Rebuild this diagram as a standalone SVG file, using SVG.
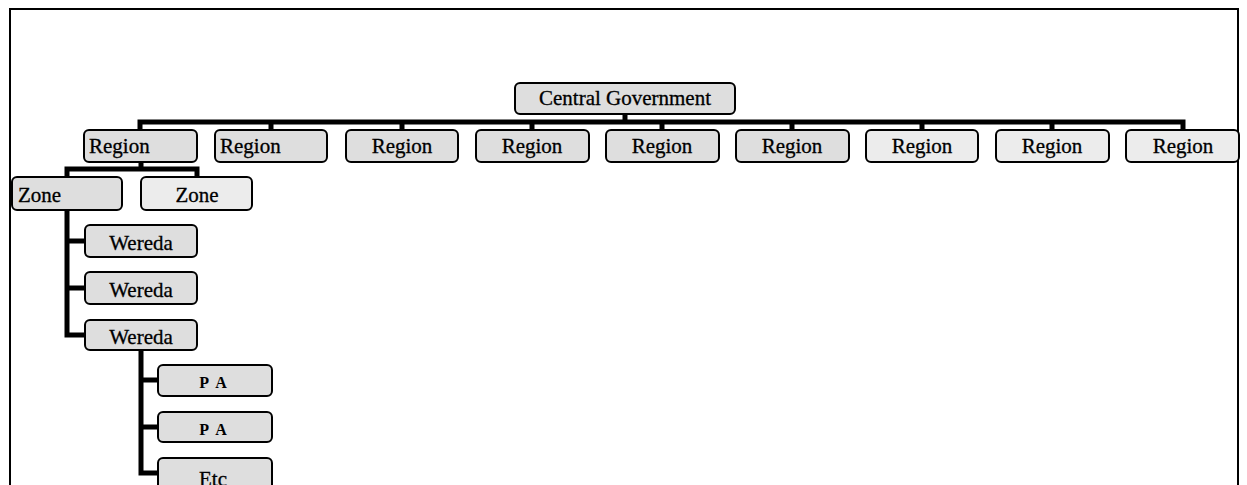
<svg xmlns="http://www.w3.org/2000/svg" width="1247" height="485" viewBox="0 0 1247 485">
<style>
.bx{stroke:#000;stroke-width:2;fill:#dedede}
.lt{fill:#ececec}
.t{font-family:"Liberation Serif","Times New Roman",serif;font-size:21px;fill:#000;stroke:#000;stroke-width:0.3}
.s{font-family:"Liberation Serif","Times New Roman",serif;font-size:16px;fill:#000;font-weight:bold;letter-spacing:2px}
.c{fill:none;stroke:#000;stroke-width:5}
.m{text-anchor:middle}
</style>
<rect width="1247" height="485" fill="#fff"/>
<path d="M10,485 V9 H1238 V485" fill="none" stroke="#000" stroke-width="2"/>
<g id="connectors">
<path class="c" d="M140,130 V122 H1183 V130"/>
<path class="c" d="M625,114 V122"/>
<path class="c" d="M271,122 V130 M402,122 V130 M532,122 V130 M662,122 V130 M792,122 V130 M922,122 V130 M1052,122 V130"/>
<path class="c" d="M141,162 V169 M67,177 V169 H197 V177"/>
<path class="c" d="M67,210 V335 H85 M67,241 H85 M67,288 H85"/>
<path class="c" d="M141,350 V473 H158 M141,380 H158 M141,427 H158"/>
</g>
<g id="central"><rect class="bx" x="515" y="83" width="220" height="31" rx="5"/><text class="t m" x="625" y="105">Central Government</text></g>
<g id="region1"><rect class="bx" x="84" y="130" width="113" height="32" rx="5"/><text class="t" x="89" y="153">Region</text></g>
<g id="region2"><rect class="bx" x="215" y="130" width="112" height="32" rx="5"/><text class="t" x="220" y="153">Region</text></g>
<g id="region3"><rect class="bx" x="346" y="130" width="112" height="32" rx="5"/><text class="t m" x="402" y="153">Region</text></g>
<g id="region4"><rect class="bx" x="476" y="130" width="113" height="32" rx="5"/><text class="t m" x="532" y="153">Region</text></g>
<g id="region5"><rect class="bx" x="606" y="130" width="113" height="32" rx="5"/><text class="t m" x="662" y="153">Region</text></g>
<g id="region6"><rect class="bx" x="736" y="130" width="113" height="32" rx="5"/><text class="t m" x="792" y="153">Region</text></g>
<g id="region7"><rect class="bx lt" x="866" y="130" width="112" height="32" rx="5"/><text class="t m" x="922" y="153">Region</text></g>
<g id="region8"><rect class="bx lt" x="996" y="130" width="113" height="32" rx="5"/><text class="t m" x="1052" y="153">Region</text></g>
<g id="region9"><rect class="bx lt" x="1126" y="130" width="113" height="32" rx="5"/><text class="t m" x="1183" y="153">Region</text></g>
<g id="zone1"><rect class="bx" x="12" y="177" width="110" height="33" rx="5"/><text class="t" x="18" y="202">Zone</text></g>
<g id="zone2"><rect class="bx lt" x="141" y="177" width="111" height="33" rx="5"/><text class="t m" x="197" y="202">Zone</text></g>
<g id="wereda1"><rect class="bx" x="85" y="225" width="112" height="32" rx="5"/><text class="t m" x="141" y="250">Wereda</text></g>
<g id="wereda2"><rect class="bx" x="85" y="272" width="112" height="32" rx="5"/><text class="t m" x="141" y="297">Wereda</text></g>
<g id="wereda3"><rect class="bx" x="85" y="320" width="112" height="30" rx="5"/><text class="t m" x="141" y="344">Wereda</text></g>
<g id="pa1"><rect class="bx" x="158" y="365" width="114" height="31" rx="5"/><text class="s m" x="214" y="388">P A</text></g>
<g id="pa2"><rect class="bx" x="158" y="412" width="114" height="30" rx="5"/><text class="s m" x="214" y="435">P A</text></g>
<g id="etc"><rect class="bx" x="158" y="458" width="114" height="40" rx="5"/><text class="t m" x="213" y="486">Etc</text></g>
</svg>
